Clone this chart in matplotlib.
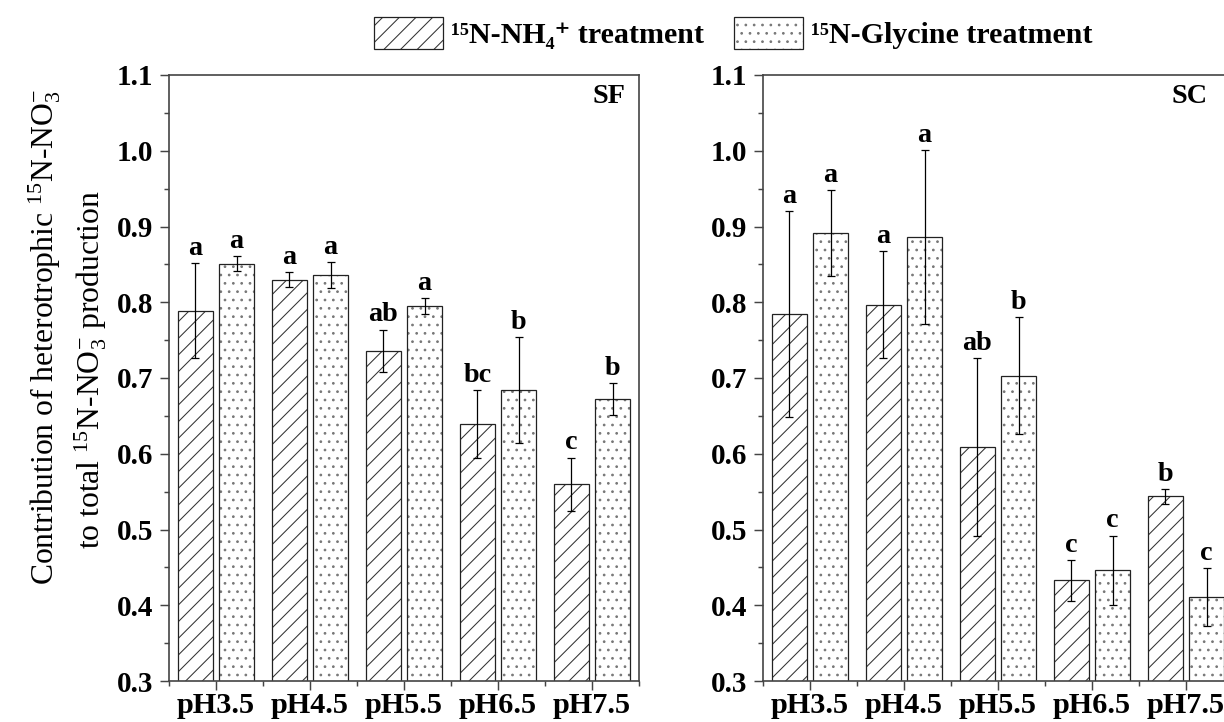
import numpy as np
import matplotlib
matplotlib.use("Agg")
import matplotlib.pyplot as plt
from matplotlib.patches import Patch
from matplotlib.legend_handler import HandlerTuple
from matplotlib.ticker import MultipleLocator, FixedLocator

plt.rcParams['font.family'] = ['Liberation Serif', 'DejaVu Serif']
plt.rcParams['mathtext.fontset'] = 'custom'
plt.rcParams['mathtext.default'] = 'regular'
plt.rcParams['hatch.linewidth'] = 0.5

# pH levels
categories = ["pH3.5", "pH4.5", "pH5.5", "pH6.5", "pH7.5"]

# SF soil
sf_nh4 = [0.789, 0.830, 0.736, 0.639, 0.560]
sf_nh4_err = [0.063, 0.010, 0.028, 0.045, 0.035]
sf_gly = [0.851, 0.836, 0.795, 0.684, 0.672]
sf_gly_err = [0.010, 0.017, 0.011, 0.070, 0.021]
sf_nh4_letters = ["a", "a", "ab", "bc", "c"]
sf_gly_letters = ["a", "a", "a", "b", "b"]

# SC soil
sc_nh4 = [0.784, 0.797, 0.609, 0.433, 0.544]
sc_nh4_err = [0.136, 0.070, 0.117, 0.027, 0.010]
sc_gly = [0.891, 0.886, 0.703, 0.446, 0.411]
sc_gly_err = [0.057, 0.115, 0.077, 0.046, 0.038]
sc_nh4_letters = ["a", "a", "ab", "c", "b"]
sc_gly_letters = ["a", "a", "b", "c", "c"]

yticks = [0.3, 0.4, 0.5, 0.6, 0.7, 0.8, 0.9, 1.0, 1.1]

W, H, DPI = 1224, 722, 150
fig = plt.figure(figsize=(W / DPI, H / DPI), dpi=DPI)

ax_w = 470 / W
ax_h = 606 / H
ax_b = 1 - 681 / H
ax1 = fig.add_axes([169 / W, ax_b, ax_w, ax_h])
ax2 = fig.add_axes([763 / W, ax_b, ax_w, ax_h])

spine_color = "#444444"
edge = "#222222"
line_hatch = "///"
line_hatch_color = "#333333"
dot_hatch = "..."
dot_hatch_color = "#777777"
bar_w = 0.37
off = 0.22


def hatched_bars(ax, x, vals, hatch, hcolor):
    ax.bar(x, vals, bar_w, color="white", edgecolor=hcolor, hatch=hatch,
           linewidth=0, zorder=2)
    ax.bar(x, vals, bar_w, fill=False, edgecolor=edge, linewidth=0.6,
           zorder=2.5)


def draw_panel(ax, nh4, nh4_err, gly, gly_err, l_nh4, l_gly, tag, tag_x):
    x = np.arange(len(categories))
    hatched_bars(ax, x - off, nh4, line_hatch, line_hatch_color)
    hatched_bars(ax, x + off, gly, dot_hatch, dot_hatch_color)
    for xs, vals, errs, letters in ((x - off, nh4, nh4_err, l_nh4),
                                    (x + off, gly, gly_err, l_gly)):
        ax.errorbar(xs, vals, yerr=errs, fmt="none", ecolor="black",
                    elinewidth=0.6, capsize=1.8, capthick=0.6, zorder=3)
        for xi, v, e, t in zip(xs, vals, errs, letters):
            ax.annotate(t, (xi, v + e), xytext=(0, 1),
                        textcoords="offset points", ha="center", va="bottom",
                        fontsize=13.5, fontweight="bold", zorder=4)

    ax.set_xlim(-0.5, 4.5)
    ax.set_ylim(0.3, 1.1)
    ax.set_xticks(x)
    ax.set_xticklabels(categories)
    ax.xaxis.set_minor_locator(FixedLocator(np.arange(-0.5, 4.6, 1.0)))
    ax.set_yticks(yticks)
    ax.set_yticklabels([f"{t:.1f}" for t in yticks])
    ax.yaxis.set_minor_locator(MultipleLocator(0.05))
    ax.tick_params(axis="both", which="major", direction="out", length=4.5,
                   width=0.7, color=spine_color)
    ax.tick_params(axis="both", which="minor", direction="out", length=2.2,
                   width=0.7, color=spine_color)
    ax.tick_params(axis="x", which="major", labelsize=14.5, pad=1)
    ax.tick_params(axis="y", which="major", labelsize=14, pad=3)
    for lab in ax.get_xticklabels() + ax.get_yticklabels():
        lab.set_fontweight("bold")
    for s in ax.spines.values():
        s.set_color(spine_color)
        s.set_linewidth(0.8)
    ax.text(tag_x, 0.964, tag, transform=ax.transAxes, ha="right",
            va="center", fontsize=13.5, fontweight="bold")


draw_panel(ax1, sf_nh4, sf_nh4_err, sf_gly, sf_gly_err,
           sf_nh4_letters, sf_gly_letters, "SF", 0.970)
draw_panel(ax2, sc_nh4, sc_nh4_err, sc_gly, sc_gly_err,
           sc_nh4_letters, sc_gly_letters, "SC", 0.945)

# two-line y-axis title
fig.text(45 / W, 1 - 337 / H,
         "Contribution of heterotrophic $^{15}$N-NO$_3^{-}$",
         rotation=90, ha="center", va="center", fontsize=15.2)
fig.text(91 / W, 1 - 370 / H,
         "to total $^{15}$N-NO$_3^{-}$ production",
         rotation=90, ha="center", va="center", fontsize=15.2)


def legend_handle(hatch, hcolor):
    return (Patch(facecolor="white", edgecolor=hcolor, hatch=hatch,
                  linewidth=0),
            Patch(fill=False, edgecolor=edge, linewidth=0.6))


handles = [legend_handle(line_hatch, line_hatch_color),
           legend_handle(dot_hatch, dot_hatch_color)]
labels = ["¹⁵N-NH₄⁺ treatment", "¹⁵N-Glycine treatment"]
fig.legend(handles, labels, loc="center left",
           bbox_to_anchor=(374 / W, 1 - 33 / H), ncol=2, frameon=False,
           prop={"weight": "bold", "size": 14.4}, handlelength=2.3,
           handleheight=1.27, handletextpad=0.27, columnspacing=1.0,
           borderpad=0, borderaxespad=0,
           handler_map={tuple: HandlerTuple(ndivide=1, pad=0)})

fig.savefig("out.png", dpi=DPI)
